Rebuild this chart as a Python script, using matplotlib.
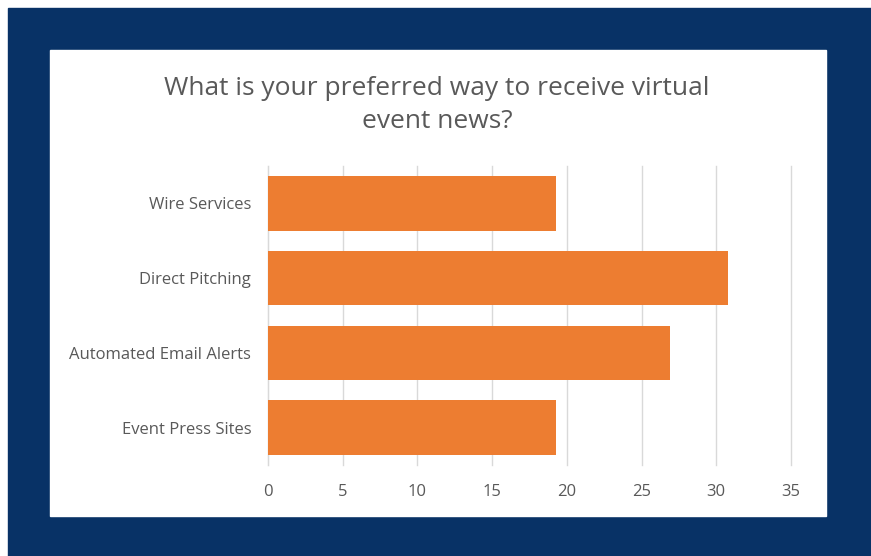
import matplotlib.pyplot as plt
from matplotlib.patches import Rectangle

categories = ['Wire Services', 'Direct Pitching', 'Automated Email Alerts', 'Event Press Sites']
values = [19.3, 30.8, 26.9, 19.3]
x_ticks = [0, 5, 10, 15, 20, 25, 30, 35]

W, H = 871, 556
fig = plt.figure(figsize=(W / 100, H / 100), dpi=100)
plt.rcParams['font.family'] = ['Open Sans', 'DejaVu Sans']

# dark blue frame and white card
fig.patches.append(Rectangle((8 / W, 0), 1 - 8 / W, 1 - 8 / H, transform=fig.transFigure,
                             color='#083266', zorder=0))
fig.patches.append(Rectangle((50 / W, 1 - 516 / H), 776 / W, 466 / H, transform=fig.transFigure,
                             color='white', zorder=1))

ax = fig.add_axes([268 / W, 1 - 465 / H, 523 / W, 299 / H])
ax.set_zorder(5)
ax.set_facecolor('none')
y = list(range(len(categories)))
ax.barh(y, values, height=0.73, color='#ED7D31', zorder=3)
ax.set_ylim(len(categories) - 0.5, -0.5)
ax.set_xlim(0, 35)
ax.set_xticks(x_ticks)
ax.set_yticks(y)
ax.set_yticklabels(categories)
ax.grid(axis='x', color='#d9d9d9', linewidth=1, zorder=0)
for line in ax.get_xgridlines():
    line.set_clip_on(False)
for s in ['top', 'right', 'bottom']:
    ax.spines[s].set_visible(False)
ax.spines['left'].set_color('#d9d9d9')
ax.tick_params(axis='both', length=0, colors='#595959', labelsize=12)
ax.tick_params(axis='x', pad=14)
ax.tick_params(axis='y', pad=12)

fig.text(437 / W, 1 - 105 / H, 'What is your preferred way to receive virtual\nevent news?',
         ha='center', va='center', fontsize=19, color='#595959', linespacing=1.45, zorder=6)

fig.savefig('out.png', dpi=100)
